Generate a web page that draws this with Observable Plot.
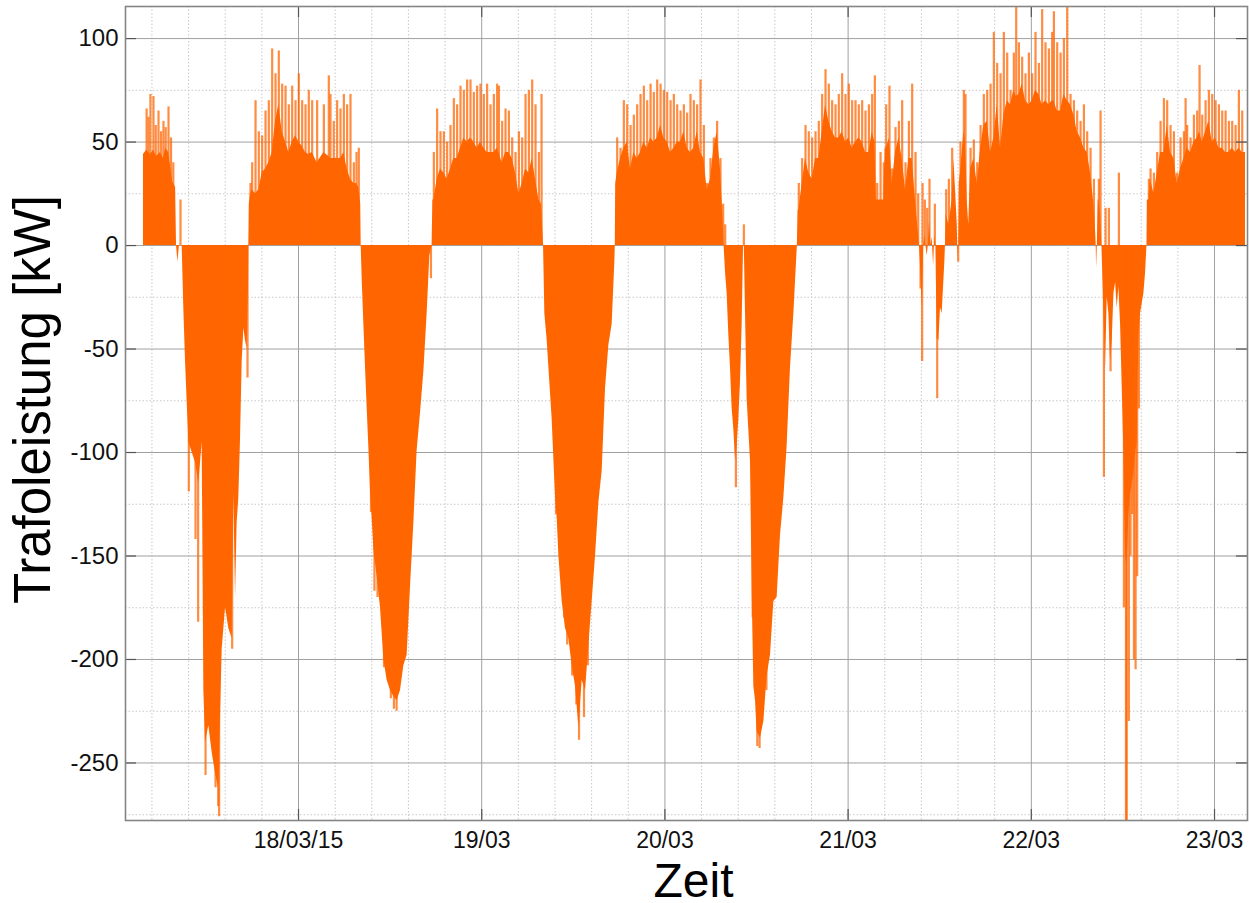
<!DOCTYPE html>
<html><head><meta charset="utf-8">
<script src="https://cdn.jsdelivr.net/npm/d3@7"></script>
<script src="https://cdn.jsdelivr.net/npm/@observablehq/plot@0.6"></script>
<style>body{margin:0;background:#fff}</style>
</head><body><div id="chart"></div>
<script>
// time in hours since 17/03/2015 00:00, power in kW
const bodyT = [3.69,4.1,4.6,5.0,5.4,5.9,6.3,6.6,7.0,7.25,7.5,7.9,8.02,8.2,8.4,8.76,
8.98,9.2,9.41,9.63,10.07,10.51,10.94,11.38,11.6,11.82,12.25,12.69,13.13,13.48,13.78,14.0,14.44,14.87,15.31,15.53,15.75,15.96,16.18,16.4,16.62,16.84,17.06,17.27,17.45,17.49,
17.55,17.71,17.93,18.37,18.8,19.24,19.68,20.11,20.55,20.99,21.42,21.86,22.3,22.73,23.17,23.61,24.04,24.48,24.92,25.35,25.79,26.44,27.32,27.97,28.19,28.62,29.06,29.5,29.94,30.37,30.81,31.25,31.6,31.9,32.15,32.21,
32.34,32.56,32.78,33.0,33.21,33.43,33.65,33.87,34.3,34.74,35.18,35.61,36.05,36.49,36.92,37.36,37.8,38.23,38.67,39.11,39.54,39.98,40.42,40.85,41.2,41.5,
41.6,41.73,42.16,42.6,43.04,43.47,43.91,44.35,44.78,45.22,45.66,46.09,46.53,46.97,47.4,47.84,48.28,48.71,49.15,49.59,50.02,50.25,50.68,51.12,51.56,51.99,52.43,52.87,53.3,53.74,54.18,54.61,55.05,55.49,55.84,56.1,
56.27,56.58,56.8,57.23,57.67,57.89,58.11,58.54,58.98,59.42,59.85,60.29,60.73,61.16,61.6,62.04,62.47,62.91,63.35,63.78,64.22,64.66,65.09,65.44,65.5,
65.55,65.75,66.19,66.62,67.06,67.5,67.93,68.37,68.81,69.24,69.68,70.12,70.55,70.99,71.43,71.86,72.3,72.74,73.17,73.61,74.05,74.48,74.91,75.35,75.79,76.22,76.66,77.1,77.53,77.97,78.41,78.84,79.28,79.63,79.75,
79.94,80.15,80.37,80.59,80.81,81.03,81.25,81.46,81.68,81.9,82.12,82.3,82.4,82.56,82.77,82.99,83.21,83.43,83.65,83.87,84.08,84.52,84.96,85.39,85.83,86.27,86.7,87.14,87.58,88.01,88.45,88.89,89.24,89.35,
89.45,89.54,89.98,90.42,90.85,91.29,91.73,92.16,92.6,93.04,93.47,93.91,94.35,94.78,95.22,95.66,96.09,96.53,96.97,97.4,97.84,98.28,98.72,99.15,99.5,99.7,99.81,100.25,100.68,100.85,100.99,101.42,101.77,102.21,102.65,103.08,103.52,103.96,104.39,104.83,105.18,
105.35,105.49,105.7,105.9,106.05,106.2,106.36,106.5,106.66,106.85,107.01,107.2,107.36,107.5,107.67,107.89,108.1,108.32,108.67,108.75,108.85,109.2,109.63,109.85,110.07,110.3,110.36,110.42,110.48,110.55,110.72,111.16,111.38,111.6,111.8,112.04,112.47,112.91,113.35,113.78,114.22,114.66,115.09,115.53,115.97,116.4,116.84,117.28,117.71,118.02,118.37,118.8,119.24,119.68,120.12,120.55,120.99,121.42,121.86,122.3,122.73,122.96,123.39,123.83,124.27,124.7,125.14,125.58,126.01,126.45,126.89,127.32,127.76,128.2,128.45,128.5,128.55,128.65,128.75,128.85,129.07,129.25,
129.51,129.73,129.94,130.16,130.38,130.6,130.82,131.04,131.25,131.47,131.69,131.91,132.13,132.35,132.56,132.78,133.0,133.22,133.44,133.66,133.87,134.09,134.31,134.53,134.75,134.97,135.15,
135.2,135.4,135.62,136.06,136.49,136.93,137.37,137.8,138.24,138.68,139.11,139.55,139.99,140.21,140.42,140.86,141.3,141.73,142.04,142.39,142.83,143.26,143.7,144.14,144.57,145.01,145.45,145.88,146.32,146.76,147.19,147.63,148.06];
const bodyV = [44,46,44,46,43,45,42,47,45,38,31,28,0,-8,0,0,
-31,-56,-75,-95,-100,-105,-115,-95,-215,-240,-232,-245,-255,-262,-228,-195,-175,-185,-190,-120,-170,-134,-122,-94,-56,-40,-46,-50,-20,0,
20,25,27,25,27,35,37,40,45,60,68,55,50,45,50,53,50,48,45,44,45,40,45,43,42,42,42,42,45,37,32,30,30,28,20,0,
-16,-38,-59,-79,-97,-119,-132,-147,-160,-175,-200,-210,-215,-218,-220,-215,-203,-198,-165,-134,-99,-81,-61,-33,-5,0,
22,22,32,37,35,32,37,42,42,47,52,50,52,50,47,50,47,45,45,45,47,45,40,45,45,42,35,25,30,37,35,42,32,22,20,0,
-33,-46,-59,-84,-122,-132,-150,-172,-185,-190,-203,-213,-233,-210,-215,-193,-172,-150,-124,-109,-69,-48,-38,-8,0,
30,35,42,47,50,37,45,42,45,50,47,52,50,52,58,52,50,45,47,50,50,55,47,45,47,55,45,42,27,32,47,55,37,12,0,
-13,-23,-43,-59,-79,-89,-104,-97,-84,-66,-38,0,0,-33,-74,-89,-104,-167,-213,-220,-235,-238,-230,-208,-198,-172,-170,-140,-122,-97,-59,-33,-8,0,
17,17,30,42,35,32,42,42,55,68,60,55,52,52,55,50,52,47,50,52,50,45,45,55,50,22,22,22,22,47,47,52,30,45,52,42,27,42,42,22,7,
0,-10,-30,0,5,0,-5,0,12,0,4,-10,5,0,-45,-46,-30,-33,-8,0,15,10,22,42,27,10,0,-5,0,30,35,55,50,22,10,37,42,30,47,58,60,45,52,68,47,63,70,68,75,72,73,78,70,68,70,75,73,68,70,68,70,70,65,65,73,70,68,63,55,52,47,45,35,20,5,0,-11,0,22,22,15,0,
-33,-59,-25,-33,-56,-46,-23,-18,-30,-20,-38,-69,-101,-150,-155,-130,-120,-115,-110,-100,-95,-43,-33,-28,-23,-13,0,
22,22,32,25,35,45,45,58,45,42,30,37,42,45,47,45,50,52,55,50,55,60,50,52,47,47,45,45,47,45,47,45,45];

const spikeT = [4.1,4.35,4.6,5.0,5.3,5.66,6.0,6.31,6.6,6.97,7.3,7.6,8.54,
9.63,10.51,10.85,11.82,13.13,13.48,13.6,15.31,17.32,
17.71,17.93,18.37,18.8,19.24,19.68,20.11,20.55,20.99,21.42,21.86,22.3,22.73,23.17,23.61,24.04,24.48,24.92,25.35,25.79,26.44,27.32,27.97,28.19,28.62,29.06,29.5,29.94,30.37,30.81,31.25,31.6,31.9,
33.5,33.95,34.35,35.2,36.1,36.5,36.85,41.35,
41.73,42.16,42.6,43.04,43.47,43.91,44.35,44.78,45.22,45.66,46.09,46.53,46.97,47.4,47.84,48.28,48.71,49.15,49.59,50.02,50.25,50.68,51.12,51.56,51.99,52.43,52.87,53.3,53.74,54.18,54.61,55.05,55.49,55.84,
57.75,58.8,59.2,59.85,60.4,60.75,61.4,61.9,
65.75,66.19,66.62,67.06,67.5,67.93,68.37,68.81,69.24,69.68,70.12,70.55,70.99,71.43,71.86,72.3,72.74,73.17,73.61,74.05,74.48,74.91,75.35,75.79,76.22,76.66,77.1,77.53,77.97,78.41,78.84,79.28,79.63,79.9,
81.3,82.34,83.5,84.1,84.4,85.3,
89.54,89.98,90.42,90.85,91.29,91.73,92.16,92.6,93.04,93.47,93.91,94.35,94.78,95.22,95.66,96.09,96.53,96.97,97.4,97.84,98.28,98.72,99.15,99.5,99.81,100.25,100.68,100.99,101.42,101.77,102.21,102.65,103.08,103.52,103.96,104.39,104.83,105.18,
105.49,105.7,105.75,106.05,106.36,106.66,107.36,107.67,108.85,109.2,109.63,110.42,110.72,111.16,111.38,112.04,112.47,112.91,113.35,113.78,114.22,114.66,115.09,115.53,115.97,116.4,116.84,117.28,117.71,118.02,118.37,118.8,119.24,119.68,120.12,120.55,120.99,121.42,121.86,122.3,122.73,122.96,123.39,123.83,124.27,124.7,125.14,125.58,126.01,126.45,126.89,127.32,127.76,128.2,128.85,129.07,
129.51,129.73,130.16,130.38,131.47,132.13,132.4,132.5,132.78,133.0,133.22,133.44,133.66,133.87,134.09,
135.4,135.62,136.06,136.49,136.93,137.37,137.8,138.24,138.68,139.11,139.55,139.99,140.21,140.42,140.86,141.3,141.73,142.04,142.39,142.83,143.26,143.7,144.14,144.57,145.01,145.45,145.88,146.32,146.76,147.19,147.63];
const spikeV = [66,62,73,72,58,65,55,60,57,67,52,40,22,
-119,-142,-182,-256,-262,-271,-276,-195,-64,
30,40,70,55,53,65,70,95,83,94,78,77,68,77,70,83,70,68,75,70,70,68,82,73,60,70,66,73,68,73,40,45,47,
-129,-167,-170,-204,-219,-224,-225,-16,
45,66,55,55,50,58,71,68,77,75,80,80,74,77,78,73,78,68,73,78,77,60,66,65,52,45,55,52,73,75,80,68,45,73,
-130,-180,-193,-208,-222,-239,-228,-203,
52,47,70,68,58,63,68,73,77,70,78,74,80,78,75,74,70,73,68,65,68,64,73,70,68,80,58,30,42,52,60,42,20,10,
-117,10,-180,-242,-243,-215,
30,42,58,55,52,55,60,73,85,78,70,68,73,83,73,78,70,70,68,70,65,68,73,82,30,45,40,68,77,37,57,60,70,40,60,78,45,25,
-21,-56,30,22,18,32,20,-74,27,32,47,-8,50,75,73,47,51,40,58,73,75,78,103,88,83,103,93,75,93,115,98,91,83,93,83,103,88,114,98,95,103,113,98,93,100,115,73,70,65,60,68,55,47,32,32,65,
-112,18,18,-61,35,-175,-278,-278,-230,-150,-130,-200,-205,-160,-79,
32,37,35,45,60,71,70,58,55,35,52,55,71,58,52,63,65,87,63,70,75,73,70,68,65,65,60,60,58,75,65];

const dayTicks = [24, 48, 72, 96, 120, 144];
const dayLabels = ["18/03/15", "19/03", "20/03", "21/03", "22/03", "23/03"];
const xMinor = [4.8,9.6,14.4,19.2,28.8,33.6,38.4,43.2,52.8,57.6,62.4,67.2,76.8,81.6,86.4,91.2,100.8,105.6,110.4,115.2,124.8,129.6,134.4,139.2];
const yTicks = [-250, -200, -150, -100, -50, 0, 50, 100];
const yMinor = [-275, -225, -175, -125, -75, -25, 25, 75];

const body = bodyT.map((t, i) => ({t, v: bodyV[i]}));
const spikes = spikeT.map((t, i) => ({t, v: spikeV[i]}));

const W = 1249, H = 903, ML = 125, MR = 2, MT = 6, MB = 83;
const PW = W - ML - MR, PH = H - MT - MB;
const orange = "#ff6600";
const font = "Liberation Sans, Arial, Helvetica, sans-serif";

const chart = Plot.plot({
  width: W, height: H,
  marginLeft: ML, marginRight: MR, marginTop: MT, marginBottom: MB,
  style: {fontFamily: font, fontSize: "24px", color: "#111", background: "#fff"},
  x: {type: "linear", domain: [1.335, 148.32]},
  y: {domain: [-277.8, 115.5]},
  marks: [
    Plot.ruleX(xMinor, {x: d => d, stroke: "#c8c8c8", strokeWidth: 1, strokeDasharray: "1.5,2"}),
    Plot.ruleY(yMinor, {y: d => d, stroke: "#c8c8c8", strokeWidth: 1, strokeDasharray: "1.5,2"}),
    Plot.ruleX(dayTicks, {x: d => d, stroke: "#a0a0a0", strokeWidth: 1}),
    Plot.ruleY(yTicks, {y: d => d, stroke: "#a0a0a0", strokeWidth: 1}),
    Plot.areaY(body, {x: "t", y: "v", fill: orange, clip: true}),
    Plot.ruleX(spikes, {x: "t", y1: 0, y2: "v", stroke: orange, strokeWidth: 2.2, strokeOpacity: 0.75, clip: true}),
    Plot.tickY(yTicks, {y: d => d, insetRight: PW - 11, stroke: "#555", strokeWidth: 1.2}),
    Plot.tickY(yTicks, {y: d => d, insetLeft: PW - 11, stroke: "#555", strokeWidth: 1.2}),
    Plot.tickX(dayTicks, {x: d => d, insetTop: PH - 11, stroke: "#555", strokeWidth: 1.2}),
    Plot.tickX(dayTicks, {x: d => d, insetBottom: PH - 11, stroke: "#555", strokeWidth: 1.2}),
    Plot.frame({stroke: "#858585", strokeWidth: 1.6}),
    Plot.axisX({ticks: dayTicks, tickFormat: d => dayLabels[dayTicks.indexOf(d)], tickSize: 0, tickPadding: 11, fontSize: 23, label: null, fill: "#111"}),
    Plot.axisY({ticks: yTicks, tickFormat: d => String(d), tickSize: 0, tickPadding: 7, fontSize: 24, label: null, fill: "#111"}),
    Plot.text(["Trafoleistung [kW]"], {frameAnchor: "left", dx: -92, dy: -14, rotate: -90, fontSize: 51, fontFamily: font, fill: "#000", textAnchor: "middle"}),
    Plot.text(["Zeit"], {frameAnchor: "bottom", lineAnchor: "bottom", dy: 76, dx: 7, fontSize: 48, fontFamily: font, fill: "#000"})
  ]
});
document.getElementById("chart").appendChild(chart);
</script>
</body></html>
